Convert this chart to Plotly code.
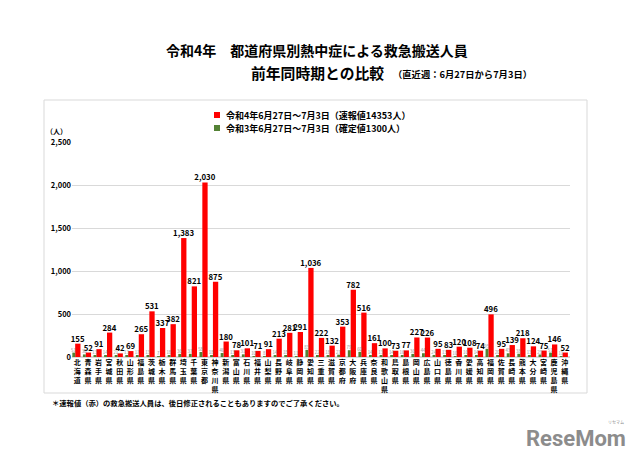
import plotly.graph_objects as go

prefectures = ["北海道","青森県","岩手県","宮城県","秋田県","山形県","福島県","茨城県","栃木県","群馬県",
               "埼玉県","千葉県","東京都","神奈川県","新潟県","富山県","石川県","福井県","山梨県","長野県",
               "岐阜県","静岡県","愛知県","三重県","滋賀県","京都府","大阪府","兵庫県","奈良県","和歌山県",
               "鳥取県","島根県","岡山県","広島県","山口県","徳島県","香川県","愛媛県","高知県","福岡県",
               "佐賀県","長崎県","熊本県","大分県","宮崎県","鹿児島県","沖縄県"]

r4_values = [155,52,91,284,42,69,265,531,337,382,
             1383,821,2030,875,180,78,101,71,91,213,
             281,291,1036,222,132,353,782,516,161,100,
             73,77,227,226,95,83,120,108,74,496,
             95,139,218,124,75,146,52]

r3_values = [51,30,13,14,21,13,17,13,7,18,
             36,37,58,18,46,13,31,10,8,14,
             18,11,83,22,18,27,79,60,14,13,
             14,16,36,44,24,13,10,16,14,95,
             20,43,38,13,29,51,11]

y_ticks = [0,500,1000,1500,2000,2500]
y_tick_text = ["0","500","1,000","1,500","2,000","2,500"]

name_r4 = "令和4年6月27日～7月3日（速報値14353人）"
name_r3 = "令和3年6月27日～7月3日（確定値1300人）"
RED = "#FF0000"
GREEN = "#548235"

FONT = "Noto Sans CJK JP"
tick_labels = ["<br>".join(list(p)) for p in prefectures]

fig = go.Figure()
fig.add_trace(go.Bar(
    x=tick_labels, y=r4_values, name=name_r4, showlegend=False,
    marker=dict(color=RED, line=dict(width=0)),
    width=0.5, offset=-0.2,
    text=[f"{v:,}" for v in r4_values], textposition="outside",
    constraintext="none",
    textfont=dict(family=FONT, size=7.8, color="#000000", weight="bold"),
    cliponaxis=False,
))
fig.add_trace(go.Bar(
    x=tick_labels, y=r3_values, name=name_r3, showlegend=False,
    marker=dict(color=GREEN, line=dict(width=0)),
    width=0.27, offset=-0.47,
    text=[str(v) for v in r3_values], textposition="outside",
    constraintext="none",
    textfont=dict(family=FONT, size=4.3, color="#909090"),
    cliponaxis=False,
))

W = 498.0
H = 215.0
def px(xp):
    return (xp - 72) / W
def py(yp):
    return (357 - yp) / H

shapes = [dict(type="rect", xref="paper", yref="paper",
               x0=px(44), x1=px(587), y0=py(393), y1=py(100),
               line=dict(color="#D9D9D9", width=1), fillcolor="rgba(0,0,0,0)", layer="below")]
legend_items = [(name_r4, RED, 115), (name_r3, GREEN, 128)]
annotations = []
for name, col, yy in legend_items:
    shapes.append(dict(type="rect", xref="paper", yref="paper",
                       x0=px(214), x1=px(220), y0=py(yy + 3), y1=py(yy - 3),
                       line=dict(width=0), fillcolor=col))
    annotations.append(dict(text=name, xref="paper", yref="paper",
                            x=px(224), y=py(yy), xanchor="left", yanchor="middle", showarrow=False,
                            font=dict(family=FONT, size=9, color="#000000", weight="bold")))

annotations += [
    dict(text="令和4年　都道府県別熱中症による救急搬送人員", xref="paper", yref="paper",
         x=px(317), y=py(50), xanchor="center", yanchor="middle", showarrow=False,
         font=dict(family=FONT, size=14, color="#000000", weight="bold")),
    dict(text="前年同時期との比較", xref="paper", yref="paper",
         x=px(249), y=py(73), xanchor="left", yanchor="middle", showarrow=False,
         font=dict(family=FONT, size=14.8, color="#000000", weight="bold")),
    dict(text="（直近週：6月27日から7月3日）", xref="paper", yref="paper",
         x=px(391), y=py(74), xanchor="left", yanchor="middle", showarrow=False,
         font=dict(family=FONT, size=9.3, color="#000000", weight="bold")),
    dict(text="（人）", xref="paper", yref="paper",
         x=px(56), y=py(131), xanchor="center", yanchor="middle", showarrow=False,
         font=dict(family=FONT, size=7, color="#000000", weight="bold")),
    dict(text="＊速報値（赤）の救急搬送人員は、後日修正されることもありますのでご了承ください。",
         xref="paper", yref="paper",
         x=px(50), y=py(403), xanchor="left", yanchor="middle", showarrow=False,
         font=dict(family=FONT, size=7.3, color="#000000", weight="bold")),
    dict(text="ReseMom", xref="paper", yref="paper",
         x=px(628), y=py(438), xanchor="right", yanchor="middle", showarrow=False,
         font=dict(family="Roboto", size=22, color="#8C8C8C", weight="bold")),
    dict(text="リセマム", xref="paper", yref="paper",
         x=px(626), y=py(422), xanchor="right", yanchor="middle", showarrow=False,
         font=dict(family=FONT, size=4, color="#8C8C8C")),
]

fig.update_layout(
    width=640, height=452,
    margin=dict(l=72, r=70, t=142, b=95),
    paper_bgcolor="white", plot_bgcolor="white",
    barmode="overlay",
    font=dict(family=FONT, color="#000000"),
    showlegend=False,
    xaxis=dict(type="category", showgrid=False, zeroline=False,
               showline=False, ticks="",
               tickfont=dict(family=FONT, size=7, color="#000000", weight="bold"),
               tickangle=0),
    yaxis=dict(range=[0, 2500], tickvals=y_ticks, ticktext=y_tick_text,
               showgrid=True, gridcolor="#D9D9D9", gridwidth=1,
               zeroline=True, zerolinecolor="#D9D9D9",
               showline=False, ticks="",
               tickfont=dict(family=FONT, size=7.5, color="#000000", weight="bold")),
    shapes=shapes,
    annotations=annotations,
)

fig.write_html("out.html")
